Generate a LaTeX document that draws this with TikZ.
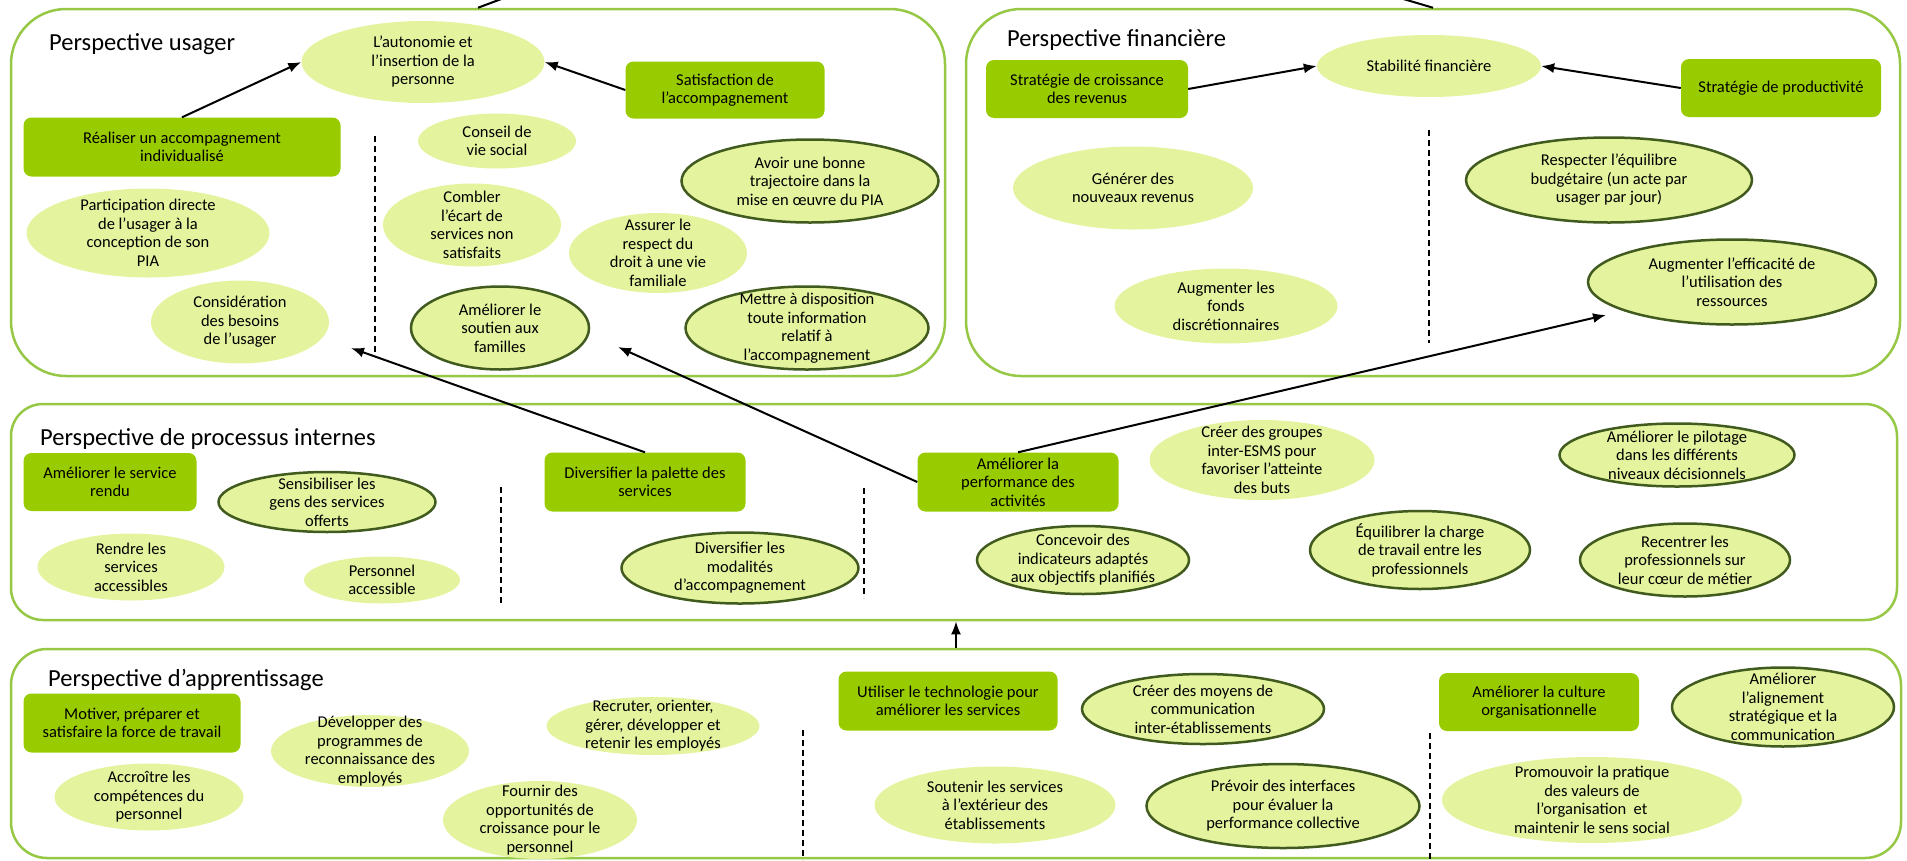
\documentclass[tikz,border=0pt]{standalone}
\usepackage{fontspec}
\setmainfont{Carlito}
\usetikzlibrary{arrows.meta,shapes.geometric}
\definecolor{panelc}{RGB}{150,200,70}
\definecolor{boxc}{RGB}{153,204,0}
\definecolor{ellc}{RGB}{228,243,158}
\definecolor{ellb}{RGB}{65,90,30}
\newcommand\ellnode[7]{%
  \node[#1, minimum width=#5pt, minimum height=#6pt] (#2) at (#3,#4) {};
  \node[txt] (#2-t) at (#2.center) {#7};}
\begin{document}
\begin{tikzpicture}[x=1pt,y=-1pt,
  panel/.style={draw=panelc, line width=2.5pt, inner sep=0pt},
  gbox/.style={fill=boxc, rounded corners=8pt, align=center, inner sep=0pt, font=\fontsize{16.5}{18.5}\selectfont},
  ell/.style={ellipse, fill=ellc, inner sep=0pt},
  ellt/.style={ell, draw=ellb, line width=2.5pt},
  txt/.style={align=center, inner sep=0pt, font=\fontsize{16.5}{18.5}\selectfont},
  ptitle/.style={anchor=base west, inner sep=0pt, font=\fontsize{24.5}{28}\selectfont},
  arr/.style={-{Latex[length=13pt,width=10pt]}, line width=2pt},
  sepline/.style={dash pattern=on 6pt off 4pt, line width=1.8pt},
  link/.style={line width=2pt}]
\useasboundingbox (0,0) rectangle (1907,860);
\clip (0,0) rectangle (1907,860);

% panels
\node[panel, rounded corners=55pt, minimum width=934pt, minimum height=367pt] (p1) at (478,192.5) {};
\node[panel, rounded corners=55pt, minimum width=934pt, minimum height=367pt] (p2) at (1433,192.5) {};
\node[panel, rounded corners=32pt, minimum width=1886pt, minimum height=216pt] (p3) at (954,512) {};
\node[panel, rounded corners=36pt, minimum width=1890pt, minimum height=209pt] (p4) at (956,753.5) {};

% titles
\node[ptitle] (t1) at (49,50) {Perspective usager};
\node[ptitle] (t2) at (1007,46) {Perspective financière};
\node[ptitle] (t3) at (40,445) {Perspective de processus internes};
\node[ptitle] (t4) at (48,686) {Perspective d’apprentissage};

% ---- Perspective usager
\node[gbox, minimum width=317pt, minimum height=59pt] (real) at (182,147) {Réaliser un accompagnement\\individualisé};
\node[gbox, minimum width=199pt, minimum height=57pt] (sat) at (725,90) {Satisfaction de\\l’accompagnement};
\ellnode{ell}{autonomie}{423}{62}{243}{82}{L’autonomie et\\l’insertion de la\\personne}
\ellnode{ell}{conseil}{497}{141}{158}{55}{Conseil de\\vie social}
\ellnode{ellt}{avoir}{810}{181}{257}{83}{Avoir une bonne\\trajectoire dans la\\mise en œuvre du PIA}
\ellnode{ell}{partic}{148}{233}{243}{89}{Participation directe\\de l'usager à la\\conception de son\\PIA}
\ellnode{ell}{combler}{472}{225}{178}{83}{Combler\\l'écart de\\services non\\satisfaits}
\ellnode{ell}{assurer}{658}{253}{178}{80}{Assurer le\\respect du\\droit à une vie\\familiale}
\ellnode{ell}{consid}{240}{322}{178}{83}{Considération\\des besoins\\de l’usager}
\ellnode{ellt}{soutien}{500}{328}{178}{83}{Améliorer le\\soutien aux\\familles}
\ellnode{ellt}{mettre}{807}{328}{243}{83}{Mettre à disposition\\toute information\\relatif à\\l’accompagnement}
\draw[sepline] (375,136) -- (375,353);

% ---- Perspective financiere
\node[gbox, minimum width=202pt, minimum height=58pt] (croiss) at (1087,89) {Stratégie de croissance\\des revenus};
\node[gbox, minimum width=200pt, minimum height=58pt] (prod) at (1781,88) {Stratégie de productivité};
\ellnode{ell}{stab}{1429}{66}{224}{62}{Stabilité financière}
\ellnode{ell}{gener}{1133}{188}{240}{83}{Générer des\\nouveaux revenus}
\ellnode{ell}{fonds}{1226}{306}{223}{75}{Augmenter les\\fonds\\discrétionnaires}
\ellnode{ellt}{respect}{1609}{180}{286}{85}{Respecter l’équilibre\\budgétaire (un acte par\\usager par jour)}
\ellnode{ellt}{effic}{1732}{282}{288}{85}{Augmenter l’efficacité de\\l’utilisation des\\ressources}
\draw[sepline] (1429,130) -- (1429,343);

% ---- Processus internes
\node[gbox, minimum width=173pt, minimum height=58pt] (serv) at (110,482) {Améliorer le service\\rendu};
\ellnode{ellt}{sensib}{327}{502}{217}{60}{Sensibiliser les\\gens des services\\offerts}
\ellnode{ell}{rendre}{131}{567}{187}{67}{Rendre les\\services\\accessibles}
\ellnode{ell}{perso}{382}{580}{156}{47}{Personnel\\accessible}
\draw[sepline] (501,487) -- (501,605);
\node[gbox, minimum width=201pt, minimum height=59pt] (palette) at (645,482) {Diversifier la palette des\\services};
\ellnode{ellt}{modal}{740}{568}{237}{71}{Diversifier les\\modalités\\d’accompagnement}
\draw[sepline] (864,488) -- (864,598);
\node[gbox, minimum width=201pt, minimum height=59pt] (perf) at (1018,482) {Améliorer la\\performance des\\activités};
\ellnode{ell}{groupes}{1262}{460}{225}{80}{Créer des groupes\\inter-ESMS pour\\favoriser l’atteinte\\des buts}
\ellnode{ellt}{pilot}{1677}{455}{235}{63}{Améliorer le pilotage\\dans les différents\\niveaux décisionnels}
\ellnode{ellt}{concev}{1083}{560}{212}{68}{Concevoir des\\indicateurs adaptés\\aux objectifs planifiés}
\ellnode{ellt}{equil}{1420}{550}{220}{78}{Équilibrer la charge\\de travail entre les\\professionnels}
\ellnode{ellt}{recent}{1685}{560}{210}{73}{Recentrer les\\professionnels sur\\leur cœur de métier}

% ---- Apprentissage
\node[gbox, minimum width=217pt, minimum height=59pt] (motiv) at (132,723) {Motiver, préparer et\\satisfaire la force de travail};
\ellnode{ell}{devel}{370}{751}{198}{72}{Développer des\\programmes de\\reconnaissance des\\employés}
\ellnode{ell}{recrut}{653}{726}{213}{58}{Recruter, orienter,\\gérer, développer et\\retenir les employés}
\ellnode{ell}{accro}{149}{797}{189}{67}{Accroître les\\compétences du\\personnel}
\ellnode{ell}{fournir}{540}{820}{194}{78}{Fournir des\\opportunités de\\croissance pour le\\personnel}
\draw[sepline] (803,730) -- (803,860);
\node[gbox, minimum width=219pt, minimum height=59pt] (util) at (948,701) {Utiliser le technologie pour\\améliorer les services};
\ellnode{ellt}{moyens}{1203}{709}{242}{70}{Créer des moyens de\\communication\\inter-établissements}
\ellnode{ell}{soutenir}{995}{805}{241}{77}{Soutenir les services\\à l’extérieur des\\établissements}
\ellnode{ellt}{prevoir}{1283}{806}{273}{84}{Prévoir des interfaces\\pour évaluer la\\performance collective}
\draw[sepline] (1430,733) -- (1430,860);
\node[gbox, minimum width=200pt, minimum height=58pt] (culture) at (1539,702) {Améliorer la culture\\organisationnelle};
\ellnode{ellt}{align}{1783}{707}{222}{79}{Améliorer\\l’alignement\\stratégique et la\\communication}
\ellnode{ell}{promo}{1592}{800}{300}{86}{Promouvoir la pratique\\des valeurs de\\l’organisation~ et\\maintenir le sens social}

% ---- connectors
\coordinate (top1) at (504,-2);
\coordinate (top2) at (1400,-2);
\draw[link] (p1.north) -- (top1);
\draw[link] (p2.north) -- (top2);
\draw[arr] (real.north) -- (autonomie.west);
\draw[arr] (sat.west) -- (autonomie.east);
\draw[arr] (croiss.east) -- (stab.west);
\draw[arr] (prod.west) -- (stab.east);
\coordinate (endconsid) at (351,348);
\coordinate (endsoutien) at (618,347);
\coordinate (endeffic) at (1606,315);
\draw[arr] (palette.north) -- (endconsid);
\draw[arr] (perf.west) -- (endsoutien);
\draw[arr] (perf.north) -- (endeffic);
\draw[arr] (p4.north) -- (p4.north |- p3.south);
\end{tikzpicture}
\end{document}
